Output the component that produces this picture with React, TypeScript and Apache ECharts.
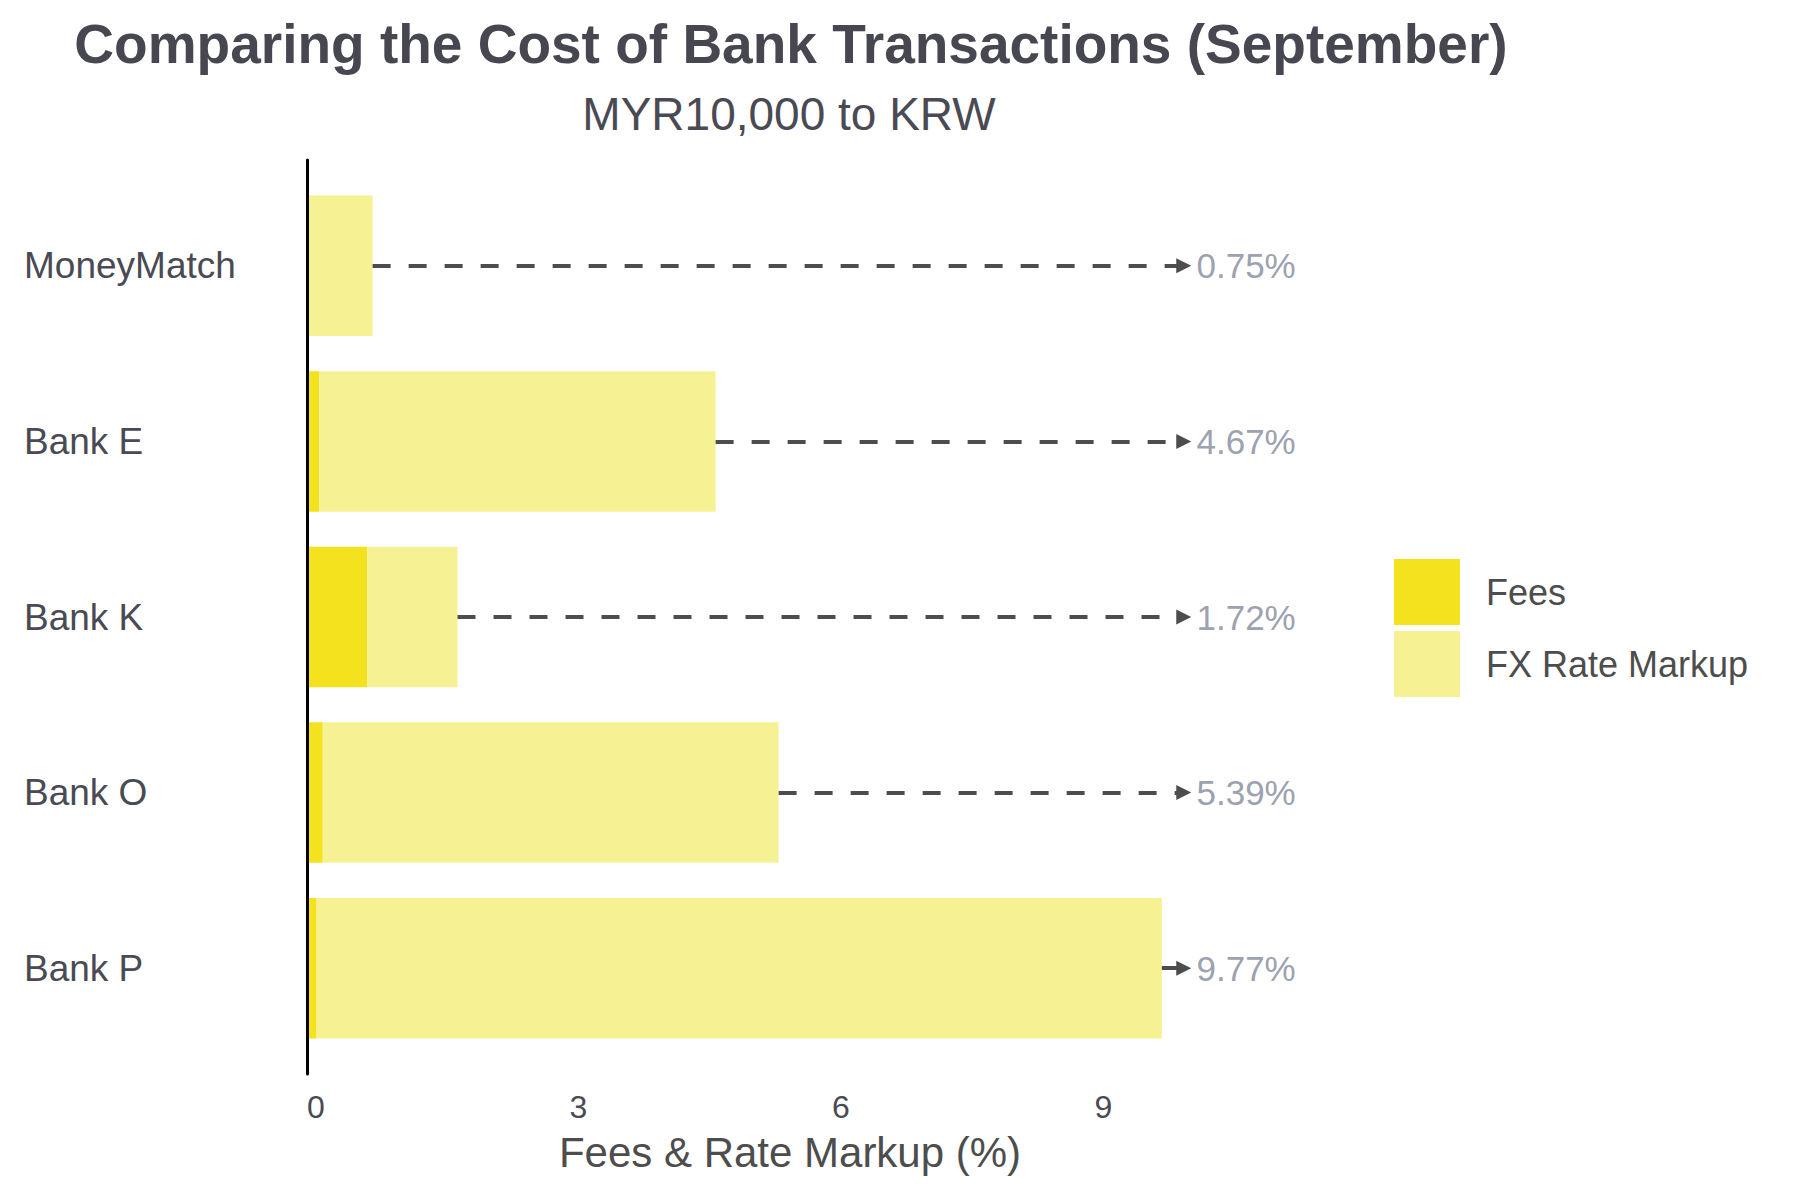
import React, { useEffect, useRef } from "react";
import * as echarts from "echarts";

const categories = ["MoneyMatch", "Bank E", "Bank K", "Bank O", "Bank P"];
const fees = [0.03, 0.14, 0.69, 0.18, 0.11];
const fxMarkup = [0.72, 4.53, 1.03, 5.21, 9.66];
const totals = [0.75, 4.67, 1.72, 5.39, 9.77];
const xTicks = [0, 3, 6, 9];
const arrowEnd = 10.02;
const labelAt = 10.16;

const FONT = "'Liberation Sans', Arial, Helvetica, sans-serif";
const TEXT = "#4a4a54";

export default function App() {
  const ref = useRef<HTMLDivElement>(null);
  useEffect(() => {
    if (!ref.current) return;
    const chart = echarts.init(ref.current, null, { renderer: "svg" });
    const option: any = {
      animation: false,
      backgroundColor: "#ffffff",
      textStyle: { fontFamily: FONT },
      graphic: [
        {
          type: "text",
          x: 791,
          y: 44,
          style: {
            text: "Comparing the Cost of Bank Transactions (September)",
            font: `bold 55px ${FONT}`,
            fill: "#474751",
            textAlign: "center",
            textVerticalAlign: "middle",
          },
        },
        {
          type: "text",
          x: 789,
          y: 114,
          style: {
            text: "MYR10,000 to KRW",
            font: `46px ${FONT}`,
            fill: "#4a4a54",
            textAlign: "center",
            textVerticalAlign: "middle",
          },
        },
      ],
      legend: {
        data: ["Fees", "FX Rate Markup"],
        orient: "vertical",
        left: 1389,
        top: 554,
        itemWidth: 66,
        itemHeight: 66,
        itemGap: 6,
        icon: "rect",
        selectedMode: false,
        textStyle: { fontSize: 36, color: "#4d4d4d", fontFamily: FONT, padding: [0, 0, 0, 21] },
      },
      grid: [
        { left: 307, width: 966, top: 178, height: 878, containLabel: false },
        { left: 307, width: 966, top: 160, height: 914, containLabel: false },
      ],
      xAxis: [
        {
          type: "value",
          gridIndex: 0,
          min: 0,
          max: 11.04,
          interval: 3,
          splitLine: { show: false },
          axisLine: { show: false },
          axisTick: { show: false },
          axisLabel: {
            fontSize: 32,
            color: TEXT,
            align: "left",
            margin: 35,
            showMaxLabel: false,
            formatter: (v: number) => (xTicks.includes(v) ? String(v) : ""),
          },
          name: "Fees & Rate Markup (%)",
          nameLocation: "middle",
          nameGap: 75,
          nameTextStyle: { fontSize: 42, color: "#4d4d4d", fontFamily: FONT },
        },
        { type: "value", gridIndex: 1, min: 0, max: 1, show: false },
      ],
      yAxis: [
        {
          type: "category",
          gridIndex: 0,
          data: categories,
          inverse: true,
          axisLine: { show: false },
          axisTick: { show: false },
          splitLine: { show: false },
          axisLabel: { fontSize: 37, color: TEXT, align: "left", margin: 283 },
        },
        {
          type: "value",
          gridIndex: 1,
          min: 0,
          max: 1,
          axisLine: { show: true, onZero: false, lineStyle: { color: "#000000", width: 3 } },
          axisTick: { show: false },
          axisLabel: { show: false },
          splitLine: { show: false },
          z: 10,
        },
      ],
      series: [
        {
          name: "Fees",
          type: "bar",
          stack: "total",
          xAxisIndex: 0,
          yAxisIndex: 0,
          barWidth: "80%",
          itemStyle: { color: "#F5E21E" },
          data: fees,
        },
        {
          name: "FX Rate Markup",
          type: "bar",
          stack: "total",
          xAxisIndex: 0,
          yAxisIndex: 0,
          barWidth: "80%",
          itemStyle: { color: "#F6F294" },
          data: fxMarkup,
        },
        {
          name: "arrows",
          type: "lines",
          coordinateSystem: "cartesian2d",
          xAxisIndex: 0,
          yAxisIndex: 0,
          symbol: ["none", "triangle"],
          symbolSize: [12, 15],
          lineStyle: { color: "#4d4d4d", width: 4, type: [18, 18], opacity: 1 },
          data: categories.map((c, i) => ({ coords: [[totals[i], i], [arrowEnd, i]] })),
          z: 5,
        },
        {
          name: "totals",
          type: "scatter",
          xAxisIndex: 0,
          yAxisIndex: 0,
          symbolSize: 1,
          itemStyle: { color: "rgba(0,0,0,0)" },
          label: {
            show: true,
            position: "right",
            distance: 0,
            fontSize: 35,
            color: "#82879a",
            fontFamily: FONT,
            formatter: (p: any) => `${totals[p.dataIndex].toFixed(2)}%`,
          },
          data: categories.map((c, i) => [labelAt, i]),
        },
      ],
    };
    chart.setOption(option);
    return () => chart.dispose();
  }, []);
  return (
    <div
      ref={ref}
      style={{ position: "fixed", left: 0, top: 0, width: 1800, height: 1200, background: "#fff" }}
    />
  );
}
